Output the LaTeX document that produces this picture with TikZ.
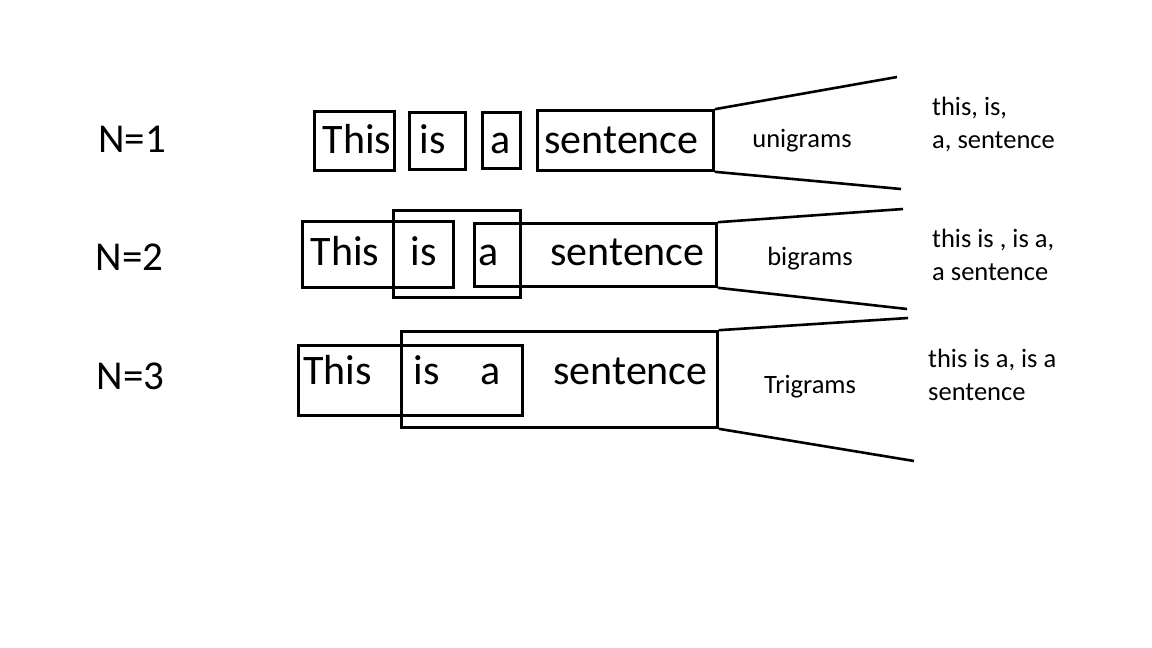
\documentclass[tikz,border=0pt]{standalone}
\usepackage{fontspec}
\setmainfont{Carlito}
\begin{document}
\begin{tikzpicture}[x=1pt,y=-1pt,
  box/.style={draw,line width=2.6pt,inner sep=0pt},
  word/.style={inner sep=0pt,anchor=base,font=\fontsize{42}{50}\selectfont},
  nlab/.style={inner sep=0pt,anchor=base,font=\fontsize{41}{50}\selectfont},
  mid/.style={inner sep=0pt,anchor=base,font=\fontsize{26.5}{34}\selectfont},
  res/.style={inner sep=0pt,anchor=base west,font=\fontsize{26.5}{34}\selectfont},
  ray/.style={line width=2.6pt}]
\useasboundingbox (0,0) rectangle (1152,648);
% left labels
\node[nlab] (n1) at (132,152) {N=1};
\node[nlab] (n2) at (129.5,270) {N=2};
\node[nlab] (n3) at (130.5,389) {N=3};
% row 1
\node[box,minimum width=80pt,minimum height=59pt] (b11) at (354.5,141) {};
\node[box,minimum width=56pt,minimum height=57pt] (b12) at (437.5,141) {};
\node[box,minimum width=38pt,minimum height=56pt] (b13) at (501.5,140.5) {};
\node[box,minimum width=176pt,minimum height=60pt] (b14) at (625.5,140.5) {};
\node[word] (w11) at (357,153) {This};
\node[word] (w12) at (433,153) {is};
\node[word] (w13) at (501,153) {a};
\node[word] (w14) at (621.5,153) {sentence};
\coordinate (r1a) at (897,77);
\coordinate (r1b) at (901,189);
\draw[ray] (b14.north east) -- (r1a);
\draw[ray] (b14.south east) -- (r1b);
\node[mid] (m1) at (802,147) {unigrams};
\node[res] (t1a) at (932,115) {this, is,};
\node[res] (t1b) at (932,148) {a, sentence};
% row 2
\node[box,minimum width=151pt,minimum height=66pt] (b21) at (378,254.5) {};
\node[box,minimum width=127pt,minimum height=87pt] (b22) at (457,254) {};
\node[box,minimum width=242pt,minimum height=63pt] (b23) at (595.5,255) {};
\node[word] (w21) at (345,265) {This};
\node[word] (w22) at (423.5,265) {is};
\node[word] (w23) at (488.5,265) {a};
\node[word] (w24) at (627.5,265) {sentence};
\coordinate (r2a) at (903,209);
\coordinate (r2b) at (907,309);
\draw[ray] (b23.north east) -- (r2a);
\draw[ray] (b23.south east) -- (r2b);
\node[mid] (m2) at (810,265) {bigrams};
\node[res] (t2a) at (932,247) {this is , is a,};
\node[res] (t2b) at (932,280) {a sentence};
% row 3
\node[box,minimum width=224pt,minimum height=70pt] (b31) at (410.5,380.5) {};
\node[box,minimum width=316pt,minimum height=96pt] (b32) at (559.5,379.5) {};
\node[word] (w31) at (337.5,384) {This};
\node[word] (w32) at (427,384) {is};
\node[word] (w33) at (491,384) {a};
\node[word] (w34) at (630.5,384) {sentence};
\coordinate (r3a) at (908,318);
\coordinate (r3b) at (914,461);
\draw[ray] (b32.north east) -- (r3a);
\draw[ray] (b32.south east) -- (r3b);
\node[mid] (m3) at (810,393) {Trigrams};
\node[res] (t3a) at (928,367) {this is a, is a};
\node[res] (t3b) at (928,400) {sentence};
\end{tikzpicture}
\end{document}
